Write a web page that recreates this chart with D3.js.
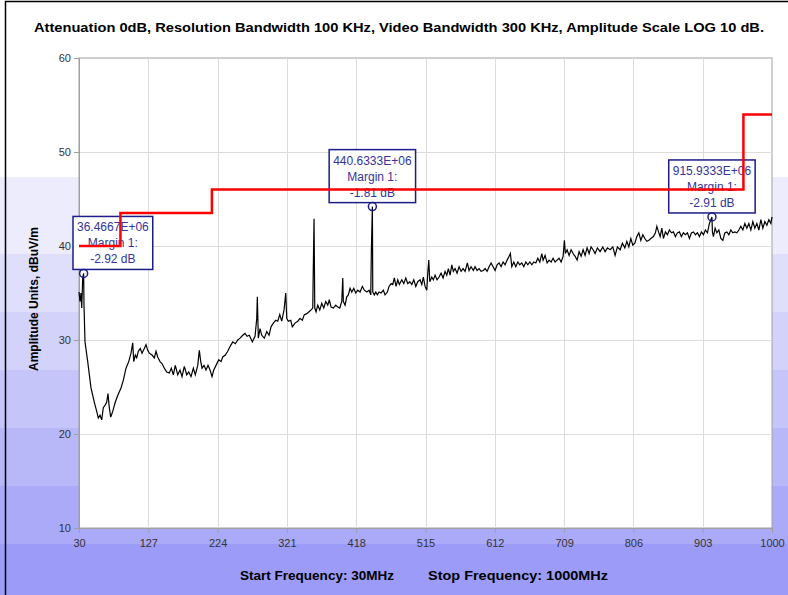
<!DOCTYPE html>
<html>
<head>
<meta charset="utf-8">
<script src="https://cdn.jsdelivr.net/npm/d3@7"></script>
<style>
  body { margin: 0; background: #fff; }
  text { font-family: "Liberation Sans", Arial, sans-serif; }
</style>
</head>
<body>
<div id="chart"></div>
<script>
// dimensions
const W = 788, H = 595;
const margin = {top: 58, right: 16, bottom: 67, left: 79};
const plotW = W - margin.left - margin.right;   // 693
const plotH = H - margin.top - margin.bottom;   // 470

// tick labels
const xTicks = [30, 127, 224, 321, 418, 515, 612, 709, 806, 903, 1000];
const yTicks = [10, 20, 30, 40, 50, 60];

// limit line (step)
const limitFreq = [30, 88, 216, 960, 1000];
const limitLevel = [40, 43.5, 46, 54, 54];

// markers
const markerFreq = [36.4667, 440.6333, 915.9333];
const markerAmp = [37.08, 44.19, 43.09];
const markerLabel = ["36.4667E+06", "440.6333E+06", "915.9333E+06"];
const markerMargin = ["-2.92 dB", "-1.81 dB", "-2.91 dB"];

// measured trace [MHz, dBuV/m]
const trace = [
  [30.0,35.1],[31.4,34.1],[32.8,35.0],[33.8,33.4],[35.2,36.6],[36.4667,37.08],[37.0,33.7],[38.4,29.8],
  [42.2,27.7],[46.8,24.9],[51.4,23.4],[54.8,22.4],[57.0,21.7],[59.4,22.0],[61.8,21.5],[64.0,22.8],
  [66.8,23.1],[68.8,23.4],[70.6,24.3],[72.4,22.8],[74.4,21.8],[77.2,22.4],[80.8,23.4],[84.2,24.1],
  [88.8,24.9],[92.0,25.7],[95.8,27.0],[99.6,27.7],[102.8,28.6],[105.2,29.7],[106.6,27.7],[108.8,28.4],
  [110.8,28.1],[113.0,28.8],[115.8,29.1],[118.2,28.6],[121.4,29.1],[123.8,29.5],[126.2,28.9],[128.4,28.6],
  [132.2,28.4],[135.4,28.1],[137.8,28.8],[140.2,28.2],[143.4,27.7],[146.2,27.5],[149.4,27.0],[152.8,26.6],
  [156.4,26.5],[159.2,27.0],[162.0,26.3],[164.8,27.3],[168.2,26.3],[171.4,26.8],[174.2,26.1],[177.4,27.2],
  [180.8,26.3],[183.6,26.6],[186.8,26.1],[190.0,27.0],[192.8,26.3],[196.2,27.3],[198.4,28.9],[200.4,27.7],
  [202.2,27.0],[205.0,27.3],[207.8,26.8],[210.6,27.3],[213.4,26.8],[216.2,26.1],[218.6,26.8],[221.8,27.3],
  [225.6,27.9],[228.8,27.7],[231.2,28.2],[234.8,28.4],[238.2,28.8],[241.4,29.3],[245.2,29.8],[248.8,29.6],
  [252.2,30.0],[255.4,30.2],[259.2,30.5],[262.4,30.7],[265.2,30.4],[268.4,30.5],[272.6,29.8],[276.4,30.4],
  [278.8,32.3],[279.6,34.6],[281.0,30.2],[283.4,31.2],[285.8,30.5],[289.4,30.2],[292.8,30.9],[296.0,30.5],
  [298.8,31.4],[302.0,31.8],[305.4,32.1],[308.2,32.0],[311.0,32.7],[313.8,32.0],[317.0,33.2],[319.4,35.0],
  [320.8,32.3],[323.0,32.0],[326.4,32.1],[328.6,31.4],[332.4,31.8],[336.2,32.0],[339.4,32.3],[342.6,32.1],
  [345.4,32.7],[348.8,32.8],[352.0,33.0],[354.8,33.2],[357.2,33.4],[358.0,38.0],[359.0,42.9],[360.0,33.4],
  [361.8,33.0],[364.2,33.7],[367.0,33.2],[369.8,33.9],[372.6,33.4],[375.4,34.1],[378.2,33.7],[380.4,34.3],
  [382.8,33.5],[386.0,33.4],[389.4,33.7],[392.2,33.5],[395.0,33.4],[397.8,34.1],[399.2,36.6],[400.0,34.1],
  [402.4,33.7],[404.8,34.6],[407.0,34.8],[409.4,35.5],[411.8,35.1],[414.6,35.5],[417.4,35.0],[420.2,35.3],
  [423.4,35.1],[426.6,35.7],[429.4,35.3],[432.8,35.1],[436.0,35.3],[438.4,34.8],[439.2,39.4],[440.6333,44.19],
  [441.2,35.1],[443.4,34.8],[445.4,35.1],[447.6,34.8],[450.0,35.1],[452.8,35.0],[456.0,35.3],[458.4,34.8],
  [461.6,35.1],[464.0,35.7],[466.8,36.0],[469.2,35.9],[471.4,36.6],[473.8,35.7],[476.2,36.4],[478.4,35.9],
  [481.8,36.4],[484.6,36.0],[487.4,36.6],[490.2,36.0],[493.0,36.2],[495.8,35.9],[498.6,36.4],[501.4,35.7],
  [504.2,36.2],[507.4,36.4],[509.8,35.9],[512.0,36.7],[514.4,35.7],[516.8,35.3],[518.2,37.1],[519.6,38.5],
  [521.0,36.2],[523.8,36.7],[526.0,36.4],[528.4,36.9],[531.2,36.4],[534.0,36.7],[536.8,37.1],[539.6,36.6],
  [542.4,37.3],[544.8,36.9],[547.0,37.6],[549.4,36.9],[551.8,38.0],[554.0,37.3],[556.4,37.6],[559.2,37.1],
  [562.0,37.8],[564.8,37.3],[567.6,37.6],[570.4,37.3],[573.6,38.2],[576.0,37.4],[578.8,37.8],[582.0,37.4],
  [584.4,37.8],[587.2,37.4],[590.0,37.6],[592.8,37.3],[596.0,37.4],[598.4,37.6],[601.2,37.3],[604.0,37.8],
  [606.8,38.2],[609.6,37.8],[612.4,37.4],[615.2,38.0],[618.0,38.2],[620.8,37.8],[623.6,38.3],[626.4,38.0],
  [629.2,38.5],[632.0,38.9],[633.8,39.2],[635.8,37.8],[638.6,38.3],[641.4,37.8],[644.2,38.3],[647.0,38.0],
  [649.8,38.2],[652.6,37.8],[655.4,38.3],[658.2,38.0],[661.0,38.3],[663.8,38.0],[666.6,38.3],[669.4,38.2],
  [672.2,38.7],[675.0,38.3],[677.8,39.2],[679.6,38.5],[682.4,39.0],[685.2,38.2],[688.0,38.5],[690.8,38.3],
  [693.6,38.7],[696.4,38.3],[699.2,38.5],[702.0,38.7],[704.8,38.3],[707.6,38.9],[709.4,40.6],[710.8,39.2],
  [713.2,39.6],[716.0,39.0],[718.8,39.6],[721.6,39.2],[724.4,38.9],[727.2,38.5],[730.0,39.4],[732.8,38.9],
  [735.6,39.6],[738.4,39.0],[741.2,39.8],[744.0,39.2],[746.8,39.9],[749.6,39.6],[752.4,39.2],[755.6,39.8],
  [759.4,39.4],[763.2,39.9],[766.4,39.4],[769.6,39.8],[773.4,39.6],[777.2,39.9],[780.4,39.0],[783.6,39.9],
  [787.4,39.6],[790.6,40.3],[794.0,39.8],[796.8,40.5],[799.6,39.9],[802.4,40.8],[805.2,40.1],[808.0,40.3],
  [810.8,41.0],[813.6,41.4],[816.4,40.6],[819.2,41.2],[822.0,40.8],[824.8,40.5],[827.6,40.6],[830.4,40.8],
  [834.0,41.0],[836.8,41.4],[838.8,42.1],[841.2,41.5],[843.4,41.0],[845.8,41.9],[848.0,40.8],[850.8,41.5],
  [853.6,41.2],[856.4,41.7],[859.2,41.4],[862.0,41.5],[864.8,41.0],[867.6,41.4],[870.4,41.5],[873.2,41.0],
  [876.0,41.4],[878.8,41.2],[881.6,41.4],[884.4,40.8],[887.2,41.4],[890.0,41.5],[892.8,41.2],[895.6,41.4],
  [898.4,41.0],[901.2,41.5],[904.0,41.2],[906.8,41.7],[909.6,41.4],[912.4,42.4],[915.9333,43.09],[916.6,41.5],
  [918.0,41.0],[920.4,41.9],[922.8,41.4],[925.6,41.7],[928.4,40.8],[931.2,40.6],[934.0,41.4],[936.8,41.5],
  [939.6,41.2],[942.4,41.7],[945.2,41.4],[948.0,41.5],[950.8,41.4],[953.6,41.7],[956.4,42.1],[959.2,41.7],
  [962.0,42.4],[964.8,41.9],[967.6,42.4],[970.4,41.7],[973.2,42.6],[976.0,41.9],[978.8,42.4],[981.6,41.7],
  [984.4,42.8],[987.2,41.9],[990.0,42.6],[992.8,42.2],[995.6,42.8],[998.4,42.4],[1000,43.1]
];

// background bands (outside plot)
const bandTop = [0, 177, 254, 312, 370, 428, 486, 544];
const bandColor = ["#ffffff", "#ececfc", "#dfdffb", "#d2d2fa", "#c5c5f9", "#b8b8f9", "#aaaaf8", "#9c9cf8"];

const svg = d3.select("#chart").append("svg")
  .attr("width", W).attr("height", H);

svg.selectAll("rect.band")
  .data(bandTop)
  .join("rect")
    .attr("class", "band")
    .attr("x", 0)
    .attr("y", d => d)
    .attr("width", W)
    .attr("height", (d, i) => (i < bandTop.length - 1 ? bandTop[i + 1] : H) - d)
    .attr("fill", (d, i) => bandColor[i]);

// outer frame
svg.append("rect")
  .attr("x", 5.5).attr("y", 1.5)
  .attr("width", W + 10).attr("height", H + 10)
  .attr("fill", "none").attr("stroke", "#000").attr("stroke-width", 1.5);

// title
svg.append("text")
  .attr("x", 34).attr("y", 32)
  .attr("font-size", 12).attr("font-weight", "bold")
  .attr("textLength", 730).attr("lengthAdjust", "spacingAndGlyphs")
  .text("Attenuation 0dB, Resolution Bandwidth 100 KHz, Video Bandwidth 300 KHz, Amplitude Scale LOG 10 dB.");

const x = d3.scaleLinear().domain([30, 1000]).range([margin.left, margin.left + plotW]);
const y = d3.scaleLinear().domain([10, 60]).range([margin.top + plotH, margin.top]);

// plot area
svg.append("rect")
  .attr("x", x(30)).attr("y", y(60))
  .attr("width", plotW).attr("height", plotH)
  .attr("fill", "#fff").attr("stroke", "#a0a0a0");

// grid
svg.append("g").selectAll("line")
  .data(xTicks.slice(1, -1))
  .join("line")
    .attr("x1", d => Math.round(x(d)) + 0.5).attr("x2", d => Math.round(x(d)) + 0.5)
    .attr("y1", y(60)).attr("y2", y(10))
    .attr("stroke", "#dcdcdc");
svg.append("g").selectAll("line")
  .data(yTicks.slice(1, -1))
  .join("line")
    .attr("x1", x(30)).attr("x2", x(1000))
    .attr("y1", d => Math.round(y(d)) + 0.5).attr("y2", d => Math.round(y(d)) + 0.5)
    .attr("stroke", "#dcdcdc");

// axes
const xAxis = svg.append("g")
  .attr("transform", `translate(0,${y(10)})`)
  .call(d3.axisBottom(x).tickValues(xTicks).tickFormat(d3.format("d")).tickSize(5).tickPadding(6));
const yAxis = svg.append("g")
  .attr("transform", `translate(${x(30)},0)`)
  .call(d3.axisLeft(y).tickValues(yTicks).tickSize(5).tickPadding(3));
[xAxis, yAxis].forEach(g => {
  g.select(".domain").attr("stroke", "#a0a0a0");
  g.selectAll(".tick line").attr("stroke", "#a0a0a0");
  g.selectAll(".tick text").attr("fill", "#333").attr("font-size", 11)
    .attr("font-family", "'DejaVu Sans Condensed', 'Liberation Sans', sans-serif");
});

// axis titles
svg.append("text")
  .attr("transform", `translate(38,${(y(60) + y(10)) / 2 + 6}) rotate(-90)`)
  .attr("text-anchor", "middle")
  .attr("font-size", 12).attr("font-weight", "bold")
  .text("Amplitude Units, dBuV/m");

svg.append("text")
  .attr("x", 240).attr("y", 580)
  .attr("font-size", 12).attr("font-weight", "bold")
  .attr("textLength", 154).attr("lengthAdjust", "spacingAndGlyphs")
  .text("Start Frequency: 30MHz");
svg.append("text")
  .attr("x", 428).attr("y", 580)
  .attr("font-size", 12).attr("font-weight", "bold")
  .attr("textLength", 180).attr("lengthAdjust", "spacingAndGlyphs")
  .text("Stop Frequency: 1000MHz");

// trace
const line = d3.line().x(d => x(d[0])).y(d => y(d[1]));
svg.append("path")
  .datum(trace)
  .attr("d", line)
  .attr("fill", "none").attr("stroke", "#000").attr("stroke-width", 1.2);

// marker boxes
const markers = markerFreq.map((f, i) => ({f, a: markerAmp[i], label: markerLabel[i], margin: markerMargin[i]}));
const boxes = svg.append("g").selectAll("g")
  .data(markers)
  .join("g");
boxes.each(function(d) {
  const g = d3.select(this);
  const rect = g.append("rect");
  const lines = [d.label, "Margin 1:", d.margin];
  const texts = lines.map(t => g.append("text")
    .attr("text-anchor", "middle").attr("font-size", 12)
    .attr("fill", "#34349a").text(t));
  const w = d3.max(texts, t => t.node().getComputedTextLength()) + 8;
  const h = 53;
  const cx = x(d.f), cy = y(d.a);
  const left = Math.max(cx - w / 2, x(30) - 6);
  const top = cy - 4 - h;
  rect.attr("x", left).attr("y", top).attr("width", w).attr("height", h)
    .attr("fill", "#fff").attr("stroke", "#1c1c8a").attr("stroke-width", 1.5);
  texts.forEach((t, k) => t.attr("x", left + w / 2).attr("y", top + 15 + k * 16));
});

// limit line
const limit = limitFreq.map((f, i) => [f, limitLevel[i]]);
svg.append("path")
  .datum(limit)
  .attr("d", d3.line().x(d => x(d[0])).y(d => y(d[1])).curve(d3.curveStepAfter))
  .attr("fill", "none").attr("stroke", "#ff0000").attr("stroke-width", 2.5);

// marker circles
svg.append("g").selectAll("circle")
  .data(markers)
  .join("circle")
    .attr("cx", d => x(d.f)).attr("cy", d => y(d.a)).attr("r", 4)
    .attr("fill", "none").attr("stroke", "#1c1c8a").attr("stroke-width", 1.5);
</script>
</body>
</html>
